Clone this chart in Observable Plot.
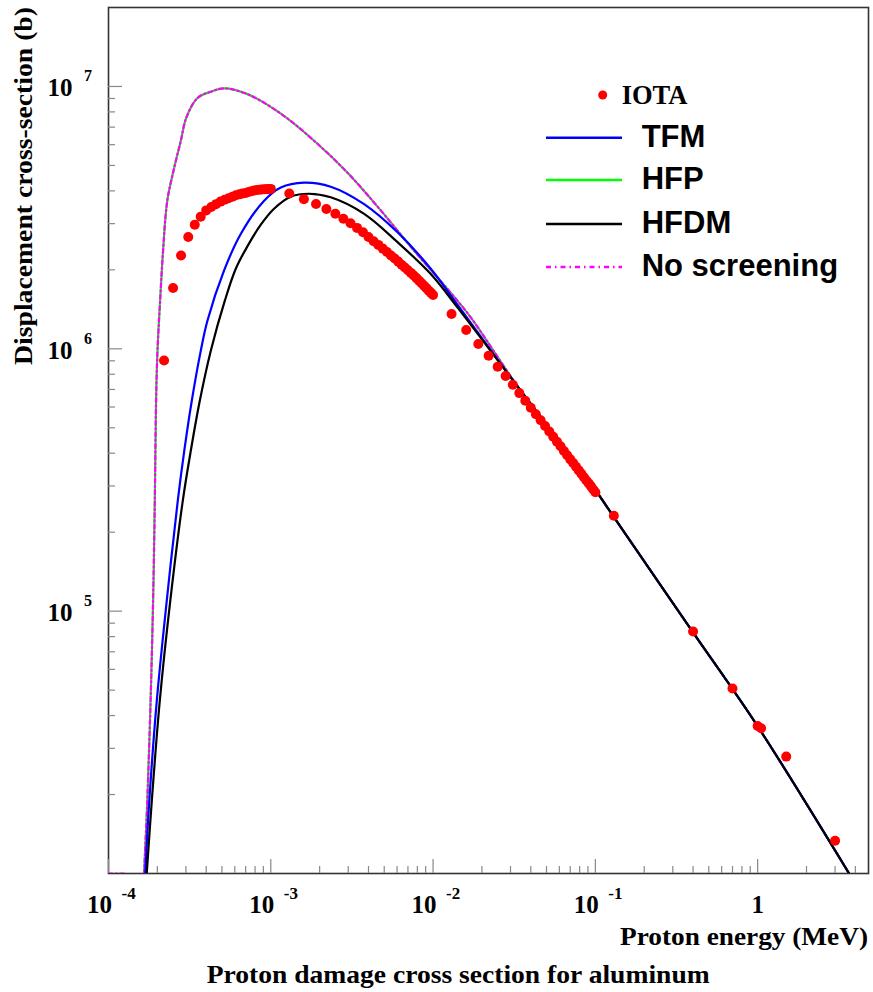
<!DOCTYPE html>
<html><head><meta charset="utf-8">
<script src="https://cdn.jsdelivr.net/npm/d3@7"></script>
<script src="https://cdn.jsdelivr.net/npm/@observablehq/plot@0.6"></script>
<style>
html,body{margin:0;padding:0;background:#fff;}
#chart{width:873px;height:992px;}
</style></head><body><div id="chart"></div>
<script>
// ---- Data (energies in MeV, cross-sections in barns) ----
const hfpE = [1.656e-4, 1.734e-4, 1.817e-4, 1.883e-4, 1.929e-4, 1.964e-4, 2.004e-4, 2.080e-4, 2.169e-4, 2.303e-4, 2.54e-4, 2.79e-4, 3.015e-4, 3.53e-4, 4.27e-4, 5.15e-4, 7.18e-4, 1.153e-3, 1.849e-3, 2.97e-3, 4.76e-3, 7.64e-3, 1.347e-2, 1.706e-2, 3.47e-2, 9.14e-2, 0.1285, 0.396, 0.997, 3.66];
const hfpS = [1e4, 1.89e4, 4.55e4, 1.096e5, 2.64e5, 6.34e5, 9.84e5, 1.526e6, 2.366e6, 3.67e6, 4.90e6, 6.21e6, 7.60e6, 9.03e6, 9.55e6, 9.84e6, 9.35e6, 7.88e6, 6.21e6, 4.69e6, 3.37e6, 2.366e6, 1.580e6, 1.318e6, 6.92e5, 3.14e5, 2.31e5, 8.37e4, 3.65e4, 1e4];

// "No screening": a short stub along the bottom edge, a gap (NaN), then the same curve as HFP
const noScrE = [1e-4, 1.3e-4, 1.45e-4, 1.656e-4, 1.734e-4, 1.817e-4, 1.883e-4, 1.929e-4, 1.964e-4, 2.004e-4, 2.080e-4, 2.169e-4, 2.303e-4, 2.54e-4, 2.79e-4, 3.015e-4, 3.53e-4, 4.27e-4, 5.15e-4, 7.18e-4, 1.153e-3, 1.849e-3, 2.97e-3, 4.76e-3, 7.64e-3, 1.347e-2, 1.706e-2, 3.47e-2, 9.14e-2, 0.1285, 0.396, 0.997, 3.66];
const noScrS = [1e4, 1e4, NaN, 1e4, 1.89e4, 4.55e4, 1.096e5, 2.64e5, 6.34e5, 9.84e5, 1.526e6, 2.366e6, 3.67e6, 4.90e6, 6.21e6, 7.60e6, 9.03e6, 9.55e6, 9.84e6, 9.35e6, 7.88e6, 6.21e6, 4.69e6, 3.37e6, 2.366e6, 1.580e6, 1.318e6, 6.92e5, 3.14e5, 2.31e5, 8.37e4, 3.65e4, 1e4];

const tfmE = [1.685e-4, 1.784e-4, 1.984e-4, 2.286e-4, 2.673e-4, 2.931e-4, 3.26e-4, 3.705e-4, 4.07e-4, 5.15e-4, 6.53e-4, 9.10e-4, 1.153e-3, 1.603e-3, 2.34e-3, 3.76e-3, 6.04e-3, 9.68e-3, 1.413e-2, 3.47e-2, 9.14e-2, 0.1285, 0.396, 0.997, 3.66];
const tfmS = [1e4, 1.89e4, 4.55e4, 1.096e5, 2.64e5, 4.09e5, 6.34e5, 9.84e5, 1.279e6, 1.986e6, 2.74e6, 3.67e6, 4.12e6, 4.30e6, 4.15e6, 3.56e6, 2.78e6, 2.02e6, 1.472e6, 6.92e5, 3.14e5, 2.31e5, 8.37e4, 3.65e4, 1e4];

const hfdmE = [1.72e-4, 1.848e-4, 2.07e-4, 2.403e-4, 2.870e-4, 3.215e-4, 3.652e-4, 4.27e-4, 5.21e-4, 6.085e-4, 7.216e-4, 8.68e-4, 1.047e-3, 1.327e-3, 1.714e-3, 2.34e-3, 3.76e-3, 6.04e-3, 9.68e-3, 1.413e-2, 3.47e-2, 9.14e-2, 0.1285, 0.396, 0.997, 3.66];
const hfdmS = [1e4, 1.89e4, 4.55e4, 1.096e5, 2.64e5, 4.09e5, 6.34e5, 9.84e5, 1.526e6, 2.02e6, 2.473e6, 2.973e6, 3.42e6, 3.80e6, 3.90e6, 3.78e6, 3.27e6, 2.55e6, 1.927e6, 1.439e6, 6.92e5, 3.14e5, 2.31e5, 8.37e4, 3.65e4, 1e4];

const iotaE = [
  2.2e-4, 2.5e-4, 2.8e-4, 3.1e-4, 3.4e-4, 3.7e-4, 4.0e-4, 4.3e-4, 4.6e-4, 4.9e-4, 5.2e-4, 5.5e-4, 5.8e-4, 6.1e-4, 6.4e-4, 6.7e-4, 7.0e-4, 7.3e-4, 7.6e-4, 7.9e-4, 8.2e-4, 8.5e-4, 8.8e-4, 9.1e-4, 9.4e-4, 9.7e-4, 1.0e-3,
  1.3e-3, 1.6e-3, 1.9e-3, 2.2e-3, 2.5e-3, 2.8e-3, 3.1e-3, 3.4e-3, 3.7e-3, 4.0e-3, 4.3e-3, 4.6e-3, 4.9e-3, 5.2e-3, 5.5e-3, 5.8e-3, 6.1e-3, 6.4e-3, 6.7e-3, 7.0e-3, 7.3e-3, 7.6e-3, 7.9e-3, 8.2e-3, 8.5e-3, 8.8e-3, 9.1e-3, 9.4e-3, 9.7e-3, 1.0e-2,
  1.3e-2, 1.6e-2, 1.9e-2, 2.2e-2, 2.5e-2, 2.8e-2, 3.1e-2, 3.4e-2, 3.7e-2, 4.0e-2, 4.3e-2, 4.6e-2, 4.9e-2, 5.2e-2, 5.5e-2, 5.8e-2, 6.1e-2, 6.4e-2, 6.7e-2, 7.0e-2, 7.3e-2, 7.6e-2, 7.9e-2, 8.2e-2, 8.5e-2, 8.8e-2, 9.1e-2, 9.4e-2, 9.7e-2, 1.0e-1,
  0.13, 0.4, 0.7, 1.0, 1.05, 1.5, 3.0];
const iotaS = [
  9.02e5, 1.706e6, 2.27e6, 2.67e6, 2.97e6, 3.19e6, 3.37e6, 3.47e6, 3.56e6, 3.64e6, 3.70e6, 3.75e6, 3.80e6, 3.85e6, 3.88e6, 3.91e6, 3.93e6, 3.96e6, 3.99e6, 4.01e6, 4.03e6, 4.04e6, 4.05e6, 4.06e6, 4.06e6, 4.07e6, 4.07e6,
  3.91e6, 3.72e6, 3.565e6, 3.41e6, 3.27e6, 3.13e6, 3.01e6, 2.89e6, 2.78e6, 2.67e6, 2.57e6, 2.49e6, 2.41e6, 2.34e6, 2.27e6, 2.21e6, 2.15e6, 2.09e6, 2.04e6, 1.994e6, 1.947e6, 1.903e6, 1.860e6, 1.818e6, 1.779e6, 1.740e6, 1.703e6, 1.666e6, 1.634e6, 1.604e6,
  1.357e6, 1.180e6, 1.043e6, 9.41e5, 8.55e5, 7.88e5, 7.30e5, 6.78e5, 6.34e5, 5.96e5, 5.63e5, 5.34e5, 5.08e5, 4.84e5, 4.62e5, 4.42e5, 4.25e5, 4.08e5, 3.93e5, 3.79e5, 3.67e5, 3.55e5, 3.44e5, 3.34e5, 3.24e5, 3.15e5, 3.07e5, 2.99e5, 2.91e5, 2.84e5,
  2.31e5, 8.37e4, 5.07e4, 3.65e4, 3.58e4, 2.79e4, 1.333e4];

// ---- Ticks ----
const xTickValues = [1e-4, 1e-3, 1e-2, 1e-1, 1];
const xTickBase = ["10", "10", "10", "10", "1"];
const xTickExp = ["-4", "-3", "-2", "-1", ""];
const xMinorTicks = [2e-4,3e-4,4e-4,5e-4,6e-4,7e-4,8e-4,9e-4, 2e-3,3e-3,4e-3,5e-3,6e-3,7e-3,8e-3,9e-3, 2e-2,3e-2,4e-2,5e-2,6e-2,7e-2,8e-2,9e-2, 0.2,0.3,0.4,0.5,0.6,0.7,0.8,0.9, 2,3,4];
const yTickValues = [1e5, 1e6, 1e7];
const yTickBase = ["10", "10", "10"];
const yTickExp = ["5", "6", "7"];
const yMinorTicks = [2e4,3e4,4e4,5e4,6e4,7e4,8e4,9e4, 2e5,3e5,4e5,5e5,6e5,7e5,8e5,9e5, 2e6,3e6,4e6,5e6,6e6,7e6,8e6,9e6];

// ---- Legend / text ----
const legendNames = ["TFM", "HFP", "HFDM", "No screening"];
const legendColors = ["#0000ff", "#00ff00", "#000000", "#ff00ff"];
const titleText = "Proton damage cross section for aluminum";
const xLabel = "Proton energy (MeV)";
const yLabel = "Displacement cross-section (b)";

const toRows = (E, S) => E.map((e, i) => ({e, s: S[i]}));
const hfp = toRows(hfpE, hfpS), noScr = toRows(noScrE, noScrS), tfm = toRows(tfmE, tfmS), hfdm = toRows(hfdmE, hfdmS), iota = toRows(iotaE, iotaS);
const xLabs = xTickValues.map((v, i) => ({v, base: xTickBase[i], exp: xTickExp[i]}));
const yLabs = yTickValues.map((v, i) => ({v, base: yTickBase[i], exp: yTickExp[i]}));

const serif = "'Liberation Serif', 'Times New Roman', serif";
const sans = "'Liberation Sans', Arial, sans-serif";
const lineCurve = "catmull-rom";

const chart = Plot.plot({
  width: 873, height: 992,
  marginLeft: 108, marginRight: 5, marginTop: 7, marginBottom: 119,
  x: {type: "log", domain: [1e-4, 4.82]},
  y: {type: "log", domain: [1e4, 2.0e7]},
  style: {background: "white", overflow: "visible"},
  marks: [
    Plot.frame({stroke: "#333", strokeWidth: 1.6}),
    Plot.axisX(xTickValues, {tickSize: -14, tickFormat: () => "", label: null, stroke: "#888", strokeWidth: 1.2}),
    Plot.axisX(xMinorTicks, {tickSize: -7, tickFormat: () => "", label: null, stroke: "#888", strokeWidth: 1.2}),
    Plot.axisY(yTickValues, {tickSize: -14, tickFormat: () => "", label: null, stroke: "#888", strokeWidth: 1.2}),
    Plot.axisY(yMinorTicks, {tickSize: -7, tickFormat: () => "", label: null, stroke: "#888", strokeWidth: 1.2}),
    Plot.line(hfp, {x: "e", y: "s", stroke: "#00ff00", strokeWidth: 2.2, curve: lineCurve, clip: true}),
    Plot.line(noScr, {x: "e", y: "s", stroke: "#ff00ff", strokeWidth: 2.2, strokeDasharray: "4,3,1.5,3", curve: lineCurve, clip: true}),
    Plot.line(tfm, {x: "e", y: "s", stroke: "#0000ff", strokeWidth: 2.2, curve: lineCurve, clip: true}),
    Plot.line(hfdm, {x: "e", y: "s", stroke: "#000", strokeWidth: 2.2, curve: lineCurve, clip: true}),
    Plot.dot(iota, {x: "e", y: "s", r: 5, fill: "#ff0000", stroke: null}),
    // x tick labels
    Plot.text(xLabs.filter(d => d.exp), {x: "v", frameAnchor: "bottom", text: "base", textAnchor: "end", lineAnchor: "bottom", dx: 3.5, dy: 39, fontSize: 25, fontWeight: "bold", fontFamily: serif}),
    Plot.text(xLabs.filter(d => d.exp), {x: "v", frameAnchor: "bottom", text: "exp", textAnchor: "start", lineAnchor: "bottom", dx: 13, dy: 25, fontSize: 17, fontWeight: "bold", fontFamily: serif}),
    Plot.text(xLabs.filter(d => !d.exp), {x: "v", frameAnchor: "bottom", text: "base", textAnchor: "middle", lineAnchor: "bottom", dy: 39, fontSize: 25, fontWeight: "bold", fontFamily: serif}),
    // y tick labels
    Plot.text(yLabs, {y: "v", frameAnchor: "left", text: "base", textAnchor: "end", lineAnchor: "bottom", dx: -36, dy: 10, fontSize: 25, fontWeight: "bold", fontFamily: serif}),
    Plot.text(yLabs, {y: "v", frameAnchor: "left", text: "exp", textAnchor: "start", lineAnchor: "bottom", dx: -24.5, dy: -5, fontSize: 16, fontWeight: "bold", fontFamily: serif})
  ]
});

const svg = d3.select(chart);
// Axis titles and caption
svg.append("text").attr("transform", "translate(31.5,7) rotate(-90)").attr("text-anchor", "end")
  .attr("font-family", serif).attr("font-weight", "bold").attr("font-size", 25)
  .attr("textLength", 358).attr("lengthAdjust", "spacingAndGlyphs").text(yLabel);
svg.append("text").attr("x", 868).attr("y", 945).attr("text-anchor", "end")
  .attr("font-family", serif).attr("font-weight", "bold").attr("font-size", 25)
  .attr("textLength", 248).attr("lengthAdjust", "spacingAndGlyphs").text(xLabel);
svg.append("text").attr("x", 206.7).attr("y", 983).attr("text-anchor", "start")
  .attr("font-family", serif).attr("font-weight", "bold").attr("font-size", 25)
  .attr("textLength", 503).attr("lengthAdjust", "spacingAndGlyphs").text(titleText);

// Legend
const lg = svg.append("g").attr("text-anchor", "start");
lg.append("circle").attr("cx", 602.7).attr("cy", 95).attr("r", 4.5).attr("fill", "#ff0000");
lg.append("text").attr("x", 621.7).attr("y", 104.3).attr("text-anchor", "start").attr("font-family", serif).attr("font-weight", "bold").attr("font-size", 26.5).text("IOTA");
const rowY = [137.7, 180, 224, 267];
legendNames.forEach((name, i) => {
  const ln = lg.append("line").attr("x1", 546).attr("x2", 622).attr("y1", rowY[i]).attr("y2", rowY[i])
    .attr("stroke", legendColors[i]).attr("stroke-width", 2.4);
  if (name === "No screening") ln.attr("stroke-dasharray", "5,4,1.5,4");
  lg.append("text").attr("x", 641.7).attr("y", rowY[i] + 9).attr("text-anchor", "start").attr("font-family", sans).attr("font-weight", "bold").attr("font-size", 31).text(name);
});

document.getElementById("chart").appendChild(chart);
</script>
</body></html>
